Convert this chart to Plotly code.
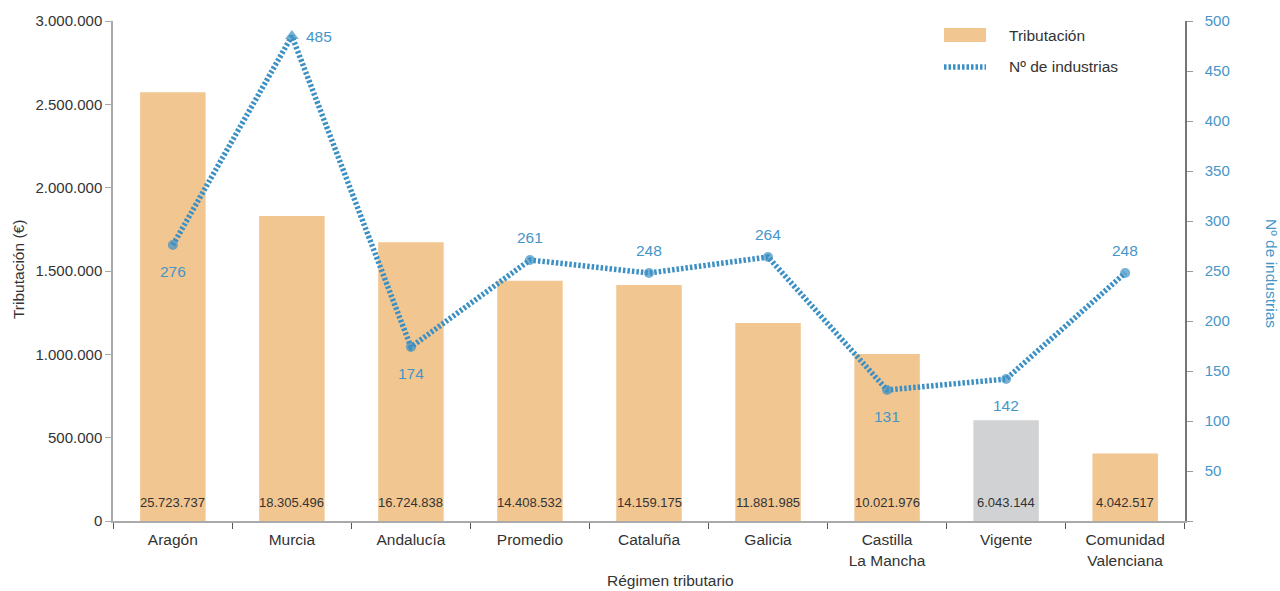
import plotly.graph_objects as go

# Categories (regimes) along the x axis
regimenes = ["Aragón", "Murcia", "Andalucía", "Promedio", "Cataluña", "Galicia",
             "Castilla<br>La Mancha", "Vigente", "Comunidad<br>Valenciana"]

# Total tributación printed inside each bar (€)
tributacion_total = [25723737, 18305496, 16724838, 14408532, 14159175,
                     11881985, 10021976, 6043144, 4042517]

# Number of industries per regime
n_industrias = [276, 485, 174, 261, 248, 264, 131, 142, 248]

# Where each industry label sits relative to its point
pos_etiqueta = ["below", "right", "below", "above", "above", "above", "below", "below", "above"]

# Left axis ticks
ticks_izq = [0, 500000, 1000000, 1500000, 2000000, 2500000, 3000000]
# Right axis ticks
ticks_der = [0, 50, 100, 150, 200, 250, 300, 350, 400, 450, 500]

NARANJA = "#f1c691"
GRIS = "#d1d2d4"
AZUL = "#3d90c4"
AZUL_TXT = "#4596c8"
TEXTO = "#333333"
FUENTE = "Liberation Sans, Arial, sans-serif"
TAM = 15.5

# Bars are plotted on the left axis at one tenth of the labelled total
altura_barras = [v / 10 for v in tributacion_total]
colores = [GRIS if r == "Vigente" else NARANJA for r in regimenes]

fig = go.Figure()

fig.add_trace(go.Bar(
    x=regimenes, y=altura_barras, marker=dict(color=colores, line=dict(width=0)),
    name="Tributación", yaxis="y", showlegend=False, hoverinfo="x+y",
))

simbolos = ["triangle-up" if v == max(n_industrias) else "circle" for v in n_industrias]
tamanos = [12 if s == "triangle-up" else 10 for s in simbolos]

fig.add_trace(go.Scatter(
    x=regimenes, y=n_industrias, yaxis="y2", mode="lines+markers",
    line=dict(color=AZUL, width=5.5, dash="2.5px,2px"),
    marker=dict(color=AZUL, size=tamanos, symbol=simbolos, line=dict(width=0)),
    name="Nº de industrias", showlegend=False,
))

anotaciones = []

# Values printed near the bottom of each bar
for r, v in zip(regimenes, tributacion_total):
    anotaciones.append(dict(
        x=r, y=0, xref="x", yref="y", yanchor="bottom", yshift=9,
        text=f"{v:,}".replace(",", "."), showarrow=False,
        font=dict(family=FUENTE, size=13, color=TEXTO),
    ))

# Industry count labels
for r, v, p in zip(regimenes, n_industrias, pos_etiqueta):
    a = dict(x=r, y=v, xref="x", yref="y2", text=str(v), showarrow=False,
             font=dict(family=FUENTE, size=TAM, color=AZUL_TXT))
    if p == "below":
        a.update(yshift=-26)
    elif p == "above":
        a.update(yshift=23)
    else:
        a.update(xshift=27)
    anotaciones.append(a)

# Axis titles
anotaciones += [
    dict(x=-0.0886, y=0.502, xref="paper", yref="paper", text="Tributación (€)",
         xanchor="center", yanchor="middle", textangle=-90, showarrow=False,
         font=dict(family=FUENTE, size=TAM, color=TEXTO)),
    dict(x=1.0812, y=0.496, xref="paper", yref="paper", text="Nº de industrias",
         xanchor="center", yanchor="middle", textangle=90, showarrow=False,
         font=dict(family=FUENTE, size=TAM, color=AZUL_TXT)),
    dict(x=0.5196, y=-0.119, xref="paper", yref="paper", text="Régimen tributario",
         xanchor="center", yanchor="middle", showarrow=False,
         font=dict(family=FUENTE, size=TAM, color=TEXTO)),
]

# Legend entries
anotaciones += [
    dict(x=0.834, y=0.972, xref="paper", yref="paper", text="Tributación",
         xanchor="left", yanchor="middle", showarrow=False,
         font=dict(family=FUENTE, size=TAM, color=TEXTO)),
    dict(x=0.834, y=0.908, xref="paper", yref="paper", text="Nº de industrias",
         xanchor="left", yanchor="middle", showarrow=False,
         font=dict(family=FUENTE, size=TAM, color=TEXTO)),
]

formas = [
    dict(type="rect", xref="paper", yref="paper", x0=0.7752, x1=0.8144, y0=0.958, y1=0.986,
         fillcolor=NARANJA, line=dict(width=0)),
    dict(type="line", xref="paper", yref="paper", x0=0.7752, x1=0.8144, y0=0.908, y1=0.908,
         line=dict(color=AZUL, width=5.5, dash="2.5px,2px")),
]

fig.update_layout(
    width=1280, height=591,
    margin=dict(l=113, r=95, t=21, b=70),
    paper_bgcolor="white", plot_bgcolor="white",
    separators=",.",
    bargap=0.45,
    font=dict(family=FUENTE, size=TAM, color=TEXTO),
    xaxis=dict(
        showline=True, linecolor="#aaaaaa", linewidth=1.5,
        ticks="outside", tickson="boundaries", ticklen=6, tickcolor="#555555",
        ticklabelstandoff=4,
        tickfont=dict(size=TAM, color=TEXTO), showgrid=False, zeroline=False,
    ),
    yaxis=dict(
        range=[0, 3000000], tickvals=ticks_izq, tickformat=",d",
        showline=True, linecolor="#aaaaaa", linewidth=1.5,
        ticks="outside", ticklen=6, tickcolor="#aaaaaa",
        tickfont=dict(size=15, color=TEXTO), showgrid=False, zeroline=False,
    ),
    yaxis2=dict(
        range=[0, 500], overlaying="y", side="right",
        tickvals=ticks_der, ticktext=[""] + [str(t) for t in ticks_der[1:]],
        showline=True, linecolor="#777777", linewidth=1.5,
        ticks="outside", ticklen=6, tickcolor="#999999",
        ticklabelstandoff=9,
        tickfont=dict(size=15, color=AZUL_TXT), showgrid=False, zeroline=False,
    ),
    annotations=anotaciones,
    shapes=formas,
)

fig.write_html("out.html")
